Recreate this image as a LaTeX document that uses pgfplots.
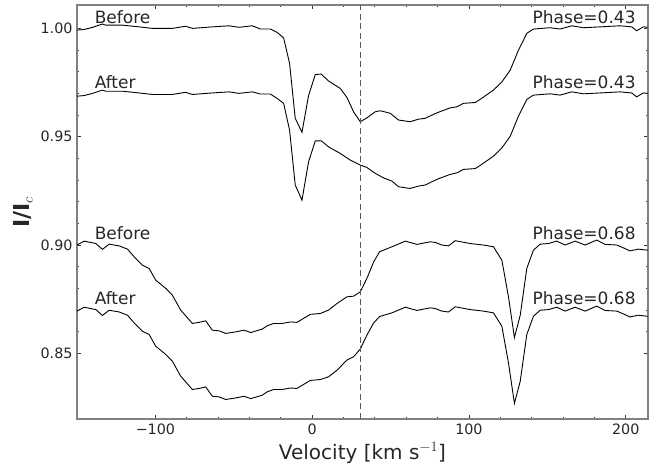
\documentclass[border=0pt]{standalone}
\usepackage{fontspec}
\setmainfont{DejaVu Sans}
\usepackage{pgfplots}
\pgfplotsset{compat=1.18}
\usepackage{pgfplotstable}

\pgfplotstableread{
v I
-150 0.9992
-145.4 0.9995
-140 1.0005
-133.8 1.0020
-131.7 1.0015
-121 1.0015
-110.4 1.0007
-101.9 1.0000
-89.2 1.0000
-80.7 1.0010
-76.4 1.0000
-63.7 1.0007
-53 1.0012
-46.7 1.0005
-38.2 1.0012
-33 0.9997
-26.7 0.9997
-22.4 0.9982
-18.2 0.9956
-14.4 0.9838
-10.8 0.9585
-6.5 0.9520
-2.3 0.9690
2 0.9787
5.8 0.9789
10.5 0.9757
17.9 0.9723
22.2 0.9681
26.4 0.9615
30.7 0.9569
34.9 0.9587
40.2 0.9615
43.4 0.9620
49.8 0.9608
55.1 0.9577
62.5 0.9569
67.8 0.9581
72.1 0.9585
79.5 0.9610
88 0.9633
92.3 0.9638
96.5 0.9654
104 0.9658
107.1 0.9672
115.6 0.9715
121 0.9753
126.3 0.9807
131.6 0.9900
136.9 0.9977
141.1 0.9997
151.8 1.0003
158.1 0.9997
165.6 1.0012
173 1.0003
183.6 1.0007
196.4 1.0012
203.8 1.0007
207 0.9989
211.2 1.0007
214 1.0005
}\beforeA

\pgfplotstableread{
v I
-150 0.9687
-145.4 0.9690
-140 0.9700
-133.8 0.9715
-131.7 0.9710
-121 0.9710
-110.4 0.9702
-101.9 0.9695
-89.2 0.9695
-80.7 0.9705
-76.4 0.9695
-63.7 0.9702
-53 0.9707
-46.7 0.9700
-38.2 0.9707
-33 0.9697
-26.7 0.9697
-22.4 0.9677
-18.2 0.9654
-14.4 0.9530
-10.8 0.9277
-6.5 0.9207
-2.3 0.9384
2 0.9481
5.8 0.9481
10.5 0.9453
17.9 0.9423
24.3 0.9392
30.7 0.9369
34.9 0.9358
40.2 0.9331
45.5 0.9310
50.9 0.9295
55.1 0.9269
62.5 0.9261
67.8 0.9272
72.1 0.9277
79.5 0.9303
88 0.9326
92.3 0.9333
96.5 0.9349
104 0.9353
107.1 0.9367
115.6 0.9410
121 0.9448
126.3 0.9502
131.6 0.9595
136.9 0.9672
141.1 0.9692
151.8 0.9698
158.1 0.9692
165.6 0.9707
173 0.9698
183.6 0.9702
196.4 0.9707
203.8 0.9702
207 0.9684
211.2 0.9702
214 0.9700
}\afterA

\pgfplotstableread{
v I
-150 0.9000
-145.4 0.9018
-138 0.9007
-133.8 0.8980
-129.5 0.9004
-123.1 0.8996
-117.8 0.8981
-113.6 0.8946
-108.3 0.8907
-104 0.8892
-99.8 0.8838
-93.4 0.8800
-89.2 0.8769
-83.9 0.8700
-76.4 0.8638
-72.2 0.8643
-67.9 0.8650
-63.7 0.8607
-59.4 0.8604
-55.2 0.8592
-48.8 0.8599
-43.5 0.8607
-39.2 0.8596
-31.8 0.8612
-28.8 0.8627
-24.6 0.8638
-19.2 0.8638
-13.9 0.8645
-9.7 0.8643
-1.2 0.8680
5.2 0.8684
10.5 0.8700
15.8 0.8730
22.2 0.8761
26.4 0.8764
30.7 0.8784
34.9 0.8846
39.2 0.8922
43 0.8969
50.9 0.8992
59.4 0.9018
66.8 0.9003
75.3 0.9015
78.5 0.9012
82.7 0.9000
87 0.8996
91.2 0.9020
100.8 0.9007
109.2 0.9000
115.6 0.8992
121 0.8930
125.2 0.8761
129 0.8573
132.7 0.8676
136.9 0.8892
141.1 0.8976
145.4 0.9004
150.7 0.9007
156 0.9018
161.3 0.9000
167.7 0.9018
174.1 0.9000
181.5 0.9023
186.8 0.9003
194.3 0.9000
198.5 0.8987
202.7 0.8973
208 0.8981
214 0.8976
}\beforeB

\pgfplotstableread{
v I
-150 0.8695
-145.4 0.8713
-138 0.8702
-133.8 0.8675
-129.5 0.8699
-123.1 0.8691
-117.8 0.8676
-113.6 0.8641
-108.3 0.8602
-104 0.8587
-99.8 0.8533
-93.4 0.8495
-89.2 0.8464
-83.9 0.8395
-76.4 0.8333
-72.2 0.8338
-67.9 0.8345
-63.7 0.8302
-59.4 0.8299
-55.2 0.8287
-48.8 0.8294
-43.5 0.8302
-39.2 0.8291
-31.8 0.8307
-28.8 0.8322
-24.6 0.8333
-19.2 0.8333
-13.9 0.8340
-9.7 0.8338
-1.2 0.8375
5.2 0.8379
10.5 0.8392
15.8 0.8422
22.2 0.8469
26.4 0.8484
30.7 0.8520
34.9 0.8584
39.2 0.8640
43 0.8670
50.9 0.8687
59.4 0.8713
66.8 0.8698
75.3 0.8710
78.5 0.8707
82.7 0.8695
87 0.8691
91.2 0.8715
100.8 0.8702
109.2 0.8695
115.6 0.8687
121 0.8625
125.2 0.8456
129 0.8269
132.7 0.8371
136.9 0.8587
141.1 0.8671
145.4 0.8699
150.7 0.8702
156 0.8713
161.3 0.8695
167.7 0.8713
174.1 0.8695
181.5 0.8718
186.8 0.8698
194.3 0.8695
198.5 0.8682
202.7 0.8668
208 0.8676
214 0.8671
}\afterB

\begin{document}
\begin{tikzpicture}
\begin{axis}[
  name=ax,
  scale only axis,
  width=571pt, height=414pt,
  xmin=-150, xmax=214.2,
  ymin=0.8197, ymax=1.0108,
  xtick={-100,0,100,200},
  xticklabels={−100,0,100,200},
  ytick={0.85,0.90,0.95,1.00},
  yticklabels={0.85,0.90,0.95,1.00},
  minor x tick num=4,
  minor y tick num=4,
  tick align=inside,
  major tick length=4pt,
  minor tick length=2pt,
  every tick/.style={black!80, line width=0.8pt},
  axis line style={black!50, line width=1.3pt},
  ticklabel style={font=\fontsize{14.3}{16}\selectfont, text=black!85},
  xticklabel style={yshift=-1pt},
  yticklabel style={xshift=-1pt},
  xlabel={Velocity [km s$^{-1}$]},
  ylabel={\textbf{I/I}$_c$},
  xlabel style={font=\fontsize{20}{24}\selectfont, text=black!85, at={(axis description cs:0.5,-0.0821)}, anchor=center},
  ylabel style={font=\fontsize{22}{26}\selectfont, text=black!85, at={(axis description cs:-0.0946,0.5)}, anchor=center},
  clip=true,
]
\addplot[black, line width=0.9pt] table[x=v,y=I] {\beforeA};
\addplot[black, line width=0.9pt] table[x=v,y=I] {\afterA};
\addplot[black, line width=0.9pt] table[x=v,y=I] {\beforeB};
\addplot[black, line width=0.9pt] table[x=v,y=I] {\afterB};
\addplot[black!65, line width=1.1pt, dash pattern=on 6pt off 3.5pt] coordinates {(31,0.8197) (31,1.0108)};

\node[anchor=west, inner sep=0pt, font=\fontsize{17}{20}\selectfont, text=black!85] at (axis cs:-138.8,1.0054) {Before};
\node[anchor=west, inner sep=0pt, font=\fontsize{17}{20}\selectfont, text=black!85] at (axis cs:-138.8,0.9754) {After};
\node[anchor=west, inner sep=0pt, font=\fontsize{17}{20}\selectfont, text=black!85] at (axis cs:-138.8,0.9054) {Before};
\node[anchor=west, inner sep=0pt, font=\fontsize{17}{20}\selectfont, text=black!85] at (axis cs:-138.8,0.8754) {After};
\node[anchor=east, inner sep=0pt, font=\fontsize{17}{20}\selectfont, text=black!85] at (axis cs:206.4,1.0054) {Phase=0.43};
\node[anchor=east, inner sep=0pt, font=\fontsize{17}{20}\selectfont, text=black!85] at (axis cs:206.4,0.9754) {Phase=0.43};
\node[anchor=east, inner sep=0pt, font=\fontsize{17}{20}\selectfont, text=black!85] at (axis cs:206.4,0.9054) {Phase=0.68};
\node[anchor=east, inner sep=0pt, font=\fontsize{17}{20}\selectfont, text=black!85] at (axis cs:206.4,0.8754) {Phase=0.68};
\end{axis}
\pgfresetboundingbox
\path ([shift={(-77pt,-51pt)}]ax.south west) rectangle ([shift={(12pt,5pt)}]ax.north east);
\end{tikzpicture}
\end{document}
